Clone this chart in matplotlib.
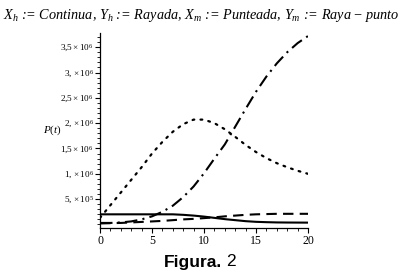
import matplotlib
matplotlib.use("Agg")
import matplotlib.pyplot as plt
from matplotlib.ticker import FixedLocator, FixedFormatter, MultipleLocator

plt.rcParams['mathtext.fontset'] = 'custom'
plt.rcParams['mathtext.rm'] = 'Liberation Serif'
plt.rcParams['mathtext.it'] = 'Liberation Serif:italic'

t = list(range(0, 21))
X_h = [0.20e6, 0.20e6, 0.20e6, 0.20e6, 0.20e6, 0.20e6, 0.20e6, 0.20e6, 0.19e6, 0.175e6, 0.155e6,
       0.13e6, 0.105e6, 0.085e6, 0.065e6, 0.052e6, 0.045e6, 0.04e6, 0.038e6, 0.037e6, 0.036e6]
Y_h = [0.02e6, 0.025e6, 0.03e6, 0.04e6, 0.05e6, 0.06e6, 0.07e6, 0.085e6, 0.10e6, 0.11e6, 0.125e6,
       0.14e6, 0.16e6, 0.175e6, 0.19e6, 0.20e6, 0.205e6, 0.21e6, 0.21e6, 0.21e6, 0.21e6]
X_m = [0.13e6, 0.38e6, 0.63e6, 0.88e6, 1.13e6, 1.40e6, 1.63e6, 1.83e6, 1.98e6, 2.07e6, 2.07e6,
       2.00e6, 1.88e6, 1.73e6, 1.57e6, 1.43e6, 1.31e6, 1.21e6, 1.13e6, 1.06e6, 1.00e6]
Y_m = [0.03e6, 0.03e6, 0.04e6, 0.06e6, 0.10e6, 0.16e6, 0.25e6, 0.37e6, 0.54e6, 0.75e6, 1.01e6,
       1.30e6, 1.58e6, 1.93e6, 2.28e6, 2.62e6, 2.92e6, 3.18e6, 3.40e6, 3.58e6, 3.72e6]

ytick_vals = [0.5e6, 1.0e6, 1.5e6, 2.0e6, 2.5e6, 3.0e6, 3.5e6]
ytick_labels = [r"$5,\times 10^{5}$", r"$1,\times 10^{6}$", r"$1{,}5\times 10^{6}$",
                r"$2,\times 10^{6}$", r"$2{,}5\times 10^{6}$", r"$3,\times 10^{6}$",
                r"$3{,}5\times 10^{6}$"]
xtick_vals = [0, 5, 10, 15, 20]
xtick_labels = ["0", "5", "10", "15", "20"]

title = (r"$X_h$ := Continua, $Y_h$ := Rayada, $X_m$ := Punteada, $Y_m$ := Raya $-$ punto")

fig = plt.figure(figsize=(4.04, 2.77), dpi=100)
ax = fig.add_axes([100/404, 1-228/277, 208/404, 195/277])

ax.plot(t, X_h, color='black', lw=1.5, linestyle='-')
ax.plot(t, Y_h, color='black', lw=1.5, linestyle=(0, (5, 3)))
ax.plot(t, X_m, color='black', lw=1.6, linestyle=(0, (0.8, 2.8)), dash_capstyle='round')
ax.plot(t, Y_m, color='black', lw=1.5, linestyle=(0, (6, 2.5, 1, 2.5)))

ax.set_xlim(0, 20)
ax.set_ylim(-0.07e6, 3.78e6)
for s in ['top', 'right']:
    ax.spines[s].set_visible(False)
for s in ['left', 'bottom']:
    ax.spines[s].set_linewidth(0.9)

ax.yaxis.set_major_locator(FixedLocator(ytick_vals))
ax.yaxis.set_major_formatter(FixedFormatter(ytick_labels))
ax.yaxis.set_minor_locator(MultipleLocator(0.1e6))
ax.xaxis.set_major_locator(FixedLocator(xtick_vals))
ax.xaxis.set_major_formatter(FixedFormatter(xtick_labels))
ax.xaxis.set_minor_locator(MultipleLocator(1))
ax.tick_params(which='major', length=3.5, width=0.8, pad=1)
ax.tick_params(axis='y', which='major', labelsize=6.6)
ax.tick_params(axis='x', which='major', labelsize=8.5, pad=1.5)
ax.tick_params(which='minor', length=2, width=0.6)
for lab in ax.get_xticklabels():
    lab.set_fontfamily('Liberation Serif')

fig.text(52/404, 1-130/277, r"$P(t)$", fontsize=8, ha='center', va='center')
fig.text(201/404, 1-15/277, title, fontsize=10.3, ha='center', va='center',
         family='Liberation Serif', style='italic')
fig.text(222/404, 1-262/277, "Figura.", fontsize=12.5, fontweight='bold', family='Liberation Sans',
         ha='right', va='center')
fig.text(226/404, 1-262/277, "2", fontsize=12.5, family='Liberation Sans', ha='left', va='center')

fig.savefig("out.png", dpi=100)
